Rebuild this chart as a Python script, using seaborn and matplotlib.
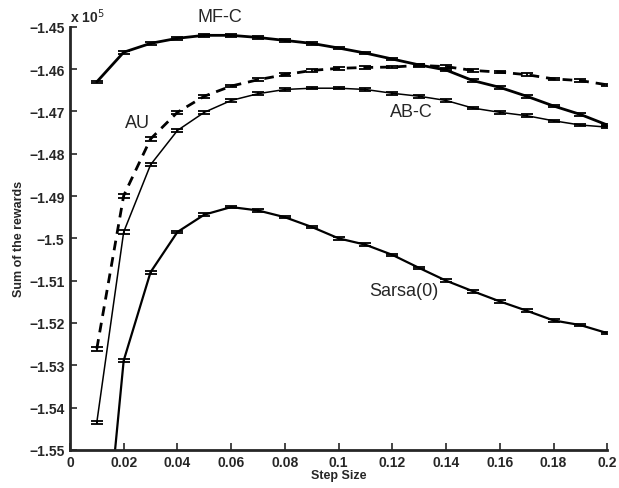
import matplotlib
matplotlib.use("Agg")
import matplotlib.pyplot as plt
import seaborn as sns
import numpy as np
import pandas as pd

step = [0.01, 0.02, 0.03, 0.04, 0.05, 0.06, 0.07, 0.08, 0.09, 0.10,
        0.11, 0.12, 0.13, 0.14, 0.15, 0.16, 0.17, 0.18, 0.19, 0.20]

mfc = [-1.4630, -1.4560, -1.4539, -1.4527, -1.4520, -1.4520, -1.4525, -1.4532, -1.4539, -1.4550,
       -1.4562, -1.4576, -1.4590, -1.4602, -1.4627, -1.4643, -1.4664, -1.4687, -1.4707, -1.4732]
au = [-1.5261, -1.4899, -1.4765, -1.4702, -1.4664, -1.4640, -1.4625, -1.4613, -1.4603, -1.4598,
      -1.4596, -1.4595, -1.4591, -1.4594, -1.4603, -1.4607, -1.4613, -1.4623, -1.4627, -1.4637]
abc = [-1.5435, -1.4985, -1.4826, -1.4745, -1.4702, -1.4674, -1.4658, -1.4648, -1.4645, -1.4645,
       -1.4648, -1.4657, -1.4664, -1.4674, -1.4692, -1.4702, -1.4710, -1.4722, -1.4732, -1.4737]
sarsa = [-1.5948, -1.5289, -1.5080, -1.4985, -1.4944, -1.4926, -1.4934, -1.4950, -1.4973, -1.5000,
         -1.5015, -1.5039, -1.5070, -1.5100, -1.5125, -1.5149, -1.5171, -1.5194, -1.5205, -1.5224]

err_mfc = [0.0003] * 20
err_au = [0.0005, 0.0005, 0.0004] + [0.0003] * 17
err_abc = [0.0004, 0.0004, 0.0004] + [0.0003] * 17
err_sarsa = [0.0004, 0.0004, 0.0004] + [0.0003] * 17

series_names = ["MF-C", "AU", "AB-C", "Sarsa(0)"]
xticks = [0, 0.02, 0.04, 0.06, 0.08, 0.1, 0.12, 0.14, 0.16, 0.18, 0.2]
xticklabels = ["0", "0.02", "0.04", "0.06", "0.08", "0.1", "0.12", "0.14", "0.16", "0.18", "0.2"]
yticks = [-1.55, -1.54, -1.53, -1.52, -1.51, -1.5, -1.49, -1.48, -1.47, -1.46, -1.45]
yticklabels = ["\u22121.55", "\u22121.54", "\u22121.53", "\u22121.52", "\u22121.51", "\u22121.5",
               "\u22121.49", "\u22121.48", "\u22121.47", "\u22121.46", "\u22121.45"]

sns.set_style("ticks")
plt.rcParams['font.family'] = ['Liberation Sans', 'DejaVu Sans']

fig = plt.figure(figsize=(6.19, 4.89), dpi=100)
ax = fig.add_axes([0.113, 0.078, 0.868, 0.865])

df = pd.DataFrame({"step": step * 4,
                   "value": mfc + au + abc + sarsa,
                   "err": err_mfc + err_au + err_abc + err_sarsa,
                   "series": sum([[n] * len(step) for n in series_names], [])})

styles = {
    "MF-C": dict(lw=2.0, ls="-"),
    "AU": dict(lw=2.0, ls=(0, (3.5, 2.5))),
    "AB-C": dict(lw=1.1, ls="-"),
    "Sarsa(0)": dict(lw=1.6, ls="-"),
}

for name in series_names:
    sub = df[df["series"] == name]
    st = styles[name]
    sns.lineplot(data=sub, x="step", y="value", ax=ax, color="black",
                 linewidth=st["lw"], linestyle=st["ls"], legend=False)
    ax.errorbar(sub["step"], sub["value"], yerr=sub["err"], fmt="none",
                ecolor="black", elinewidth=1.3, capsize=4.5, capthick=1.3)

ax.set_xlim(0, 0.2)
ax.set_ylim(-1.55, -1.45)
ax.set_xticks(xticks)
ax.set_xticklabels(xticklabels, fontweight="bold", fontsize=10)
ax.set_yticks(yticks)
ax.set_yticklabels(yticklabels, fontweight="bold", fontsize=10)
ax.tick_params(direction="in", length=5, width=1.2, pad=4)

for s in ["top", "right"]:
    ax.spines[s].set_visible(False)
for s in ["left", "bottom"]:
    ax.spines[s].set_linewidth(2.0)

ax.set_xlabel("Step Size", fontweight="bold", fontsize=9, labelpad=0)
ax.set_ylabel("Sum of the rewards", fontweight="bold", fontsize=9, labelpad=3)
ax.xaxis.set_label_coords(0.5, -0.045)

ax.text(0.0, 1.005, "x 10$^5$", transform=ax.transAxes, fontsize=10,
        fontweight="bold", ha="left", va="bottom")

ax.text(0.0559, -1.4476, "MF-C", fontsize=13, ha="center", va="center", clip_on=False)
ax.text(0.025, -1.4725, "AU", fontsize=13, ha="center", va="center")
ax.text(0.1272, -1.4700, "AB-C", fontsize=13, ha="center", va="center")
ax.text(0.1244, -1.5123, "Sarsa(0)", fontsize=13, ha="center", va="center")

fig.savefig("out.png", dpi=100)
